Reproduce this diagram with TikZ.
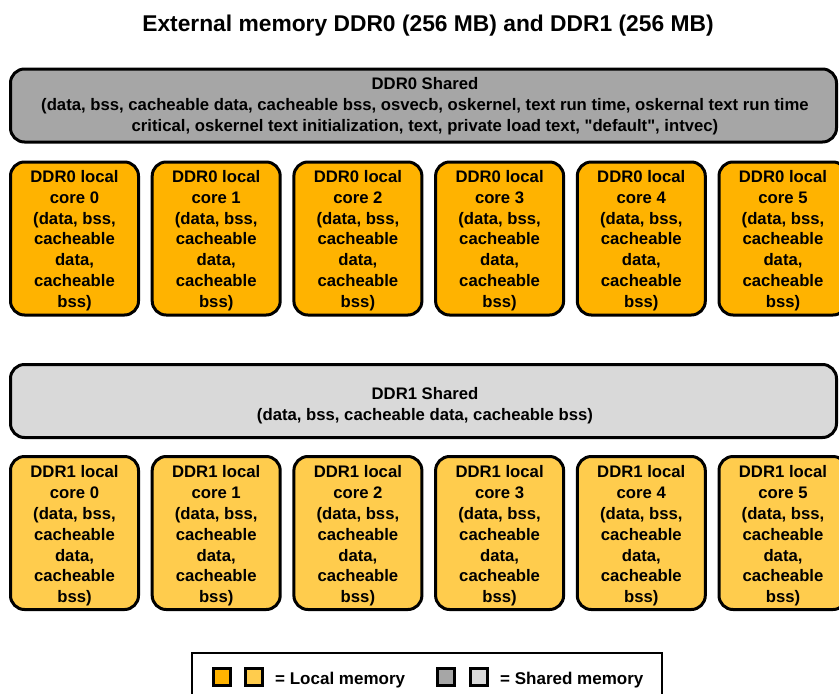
\documentclass[tikz,border=0pt]{standalone}
\usepackage{fontspec}
\setmainfont{Liberation Sans}[Ligatures=TeXOff]
\definecolor{localA}{HTML}{FFB300}
\definecolor{localB}{HTML}{FFCC4D}
\definecolor{sharedA}{HTML}{A6A6A6}
\definecolor{sharedB}{HTML}{D9D9D9}
\newcommand{\bodytext}{\fontsize{16.7}{20.8}\selectfont\bfseries}
\begin{document}
\begin{tikzpicture}[x=1pt,y=-1pt,
  membox/.style={draw=black, line width=3pt, rounded corners=14pt, inner sep=0pt},
  sharedbox/.style={membox, minimum width=826pt, minimum height=73pt},
  localbox/.style={membox, minimum width=128pt, minimum height=153pt},
  boxtext/.style={align=center, inner sep=0pt, font=\bodytext},
  keybox/.style={draw=black, line width=3pt, minimum size=17pt, inner sep=0pt},
  keytext/.style={anchor=base west, inner sep=0pt, font=\fontsize{17}{20}\selectfont\bfseries}]
\useasboundingbox (0,0) rectangle (839,694);
\clip (0,0) rectangle (839,694);

% title
\node[anchor=base, inner sep=0pt, font=\fontsize{22.8}{26}\selectfont\bfseries] (title) at (428,31.5)
  {External memory DDR0 (256 MB) and DDR1 (256 MB)};

% DDR0
\node[sharedbox, fill=sharedA] (ddr0shared) at (423.5,105.5) {};
\node[boxtext] (ddr0sharedtext) at (425,106)
  {DDR0 Shared\\(data, bss, cacheable data, cacheable bss, osvecb, oskernel, text run time, oskernal text run time\\critical, oskernel text initialization, text, private load text, "default", intvec)};
\foreach \i in {0,...,5} {
  \node[localbox, fill=localA] (ddr0core\i) at (74.5+141.7*\i,238.5) {};
  \node[boxtext] (ddr0core\i text) at (74.5+141.7*\i,240.5)
    {DDR0 local\\core \i\\(data, bss,\\cacheable\\data,\\cacheable\\bss)};
}

% DDR1
\node[sharedbox, fill=sharedB] (ddr1shared) at (423.5,401) {};
\node[boxtext] (ddr1sharedtext) at (425,405.5)
  {DDR1 Shared\\(data, bss, cacheable data, cacheable bss)};
\foreach \i in {0,...,5} {
  \node[localbox, fill=localB] (ddr1core\i) at (74.5+141.7*\i,533) {};
  \node[boxtext] (ddr1core\i text) at (74.5+141.7*\i,536)
    {DDR1 local\\core \i\\(data, bss,\\cacheable\\data,\\cacheable\\bss)};
}

% legend
\draw[line width=1.5pt] (192,653) rectangle (662,720);
\node[keybox, fill=localA] (keylocalA) at (221.5,676.5) {};
\node[keybox, fill=localB] (keylocalB) at (253.5,676.5) {};
\node[keytext] (keylocaltext) at (275,684.5) {= Local memory};
\node[keybox, fill=sharedA] (keysharedA) at (446,676.5) {};
\node[keybox, fill=sharedB] (keysharedB) at (478.5,676.5) {};
\node[keytext] (keysharedtext) at (500,684.5) {= Shared memory};
\end{tikzpicture}
\end{document}
